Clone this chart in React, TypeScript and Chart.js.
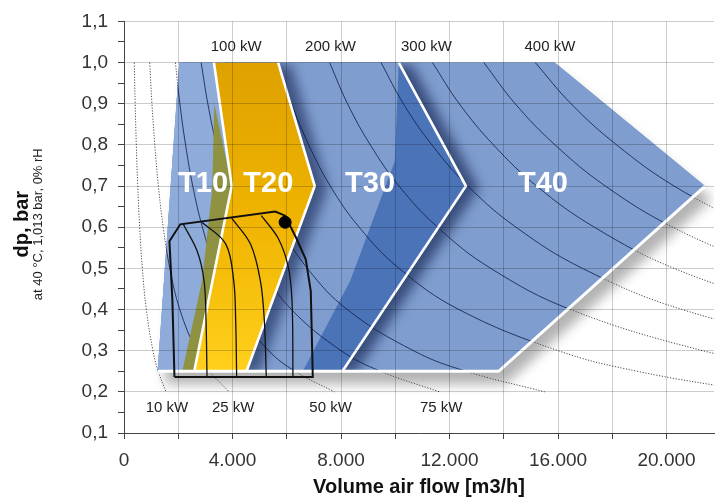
import React, { useEffect, useRef } from "react";
import { Chart, registerables } from "chart.js";

Chart.register(...registerables);

const FONT = "'Liberation Sans', Arial, Helvetica, sans-serif";

// ---- axes ----
const flowMin = 0;
const flowMax = 21750;
const dpMin = 0.1;
const dpMax = 1.1;
const xTickValues = [0, 2000, 4000, 6000, 8000, 10000, 12000, 14000, 16000, 18000, 20000];
const xLabelValues = [0, 4000, 8000, 12000, 16000, 20000];
const xTickLabels = ["0", "4.000", "8.000", "12.000", "16.000", "20.000"];
const yTickValues = [0.1, 0.15, 0.2, 0.25, 0.3, 0.35, 0.4, 0.45, 0.5, 0.55, 0.6, 0.65, 0.7, 0.75, 0.8, 0.85, 0.9, 0.95, 1.0, 1.05, 1.1];

// ---- iso-power curves (air flow m3/h read at each dp level) ----
const dpLevels = [1.0, 0.9, 0.8, 0.7, 0.6, 0.5, 0.4, 0.3, 0.25, 0.2];
const kw10 = [379, 412, 454, 507, 578, 676, 823, 1067, 1261, 1551];
const kw25 = [948, 1030, 1135, 1268, 1445, 1690, 2058, 2668, 3153, 3878];
const kw50 = [1895, 2060, 2270, 2535, 2890, 3380, 4115, 5335, 6305, 7755];
const kw75 = [2843, 3090, 3405, 3803, 4335, 5070, 6173, 8003, 9458, 11633];
const kw100 = [3790, 4120, 4540, 5070, 5780, 6760, 8230, 10670, 12610, 15510];
const kw150 = [5685, 6180, 6810, 7605, 8670, 10140, 12345, 16005, 18915, 23265];
const kw200 = [7580, 8240, 9080, 10140, 11560, 13520, 16460, 21340, 25220];
const kw250 = [9475, 10300, 11350, 12675, 14450, 16900, 20575, 26675];
const kw300 = [11370, 12360, 13620, 15210, 17340, 20280, 24690];
const kw350 = [13265, 14420, 15890, 17745, 20230, 23660];
const kw400 = [15160, 16480, 18160, 20280, 23120];
const kwCurves = [kw10, kw25, kw50, kw75, kw100, kw150, kw200, kw250, kw300, kw350, kw400];

// ---- ranges (polygons) ----
const outerFlow = [1240, 2040, 15880, 21420, 13810];
const outerDp = [0.25, 1.0, 1.0, 0.7, 0.25];
const t10Flow = [1240, 2040, 3315, 3970, 2590];
const t10Dp = [0.25, 1.0, 1.0, 0.7, 0.25];
const t20Flow = [3315, 5683, 7031, 4517, 2590, 3970];
const t20Dp = [1.0, 1.0, 0.7, 0.25, 0.25, 0.7];
const t30Flow = [5683, 10128, 12605, 8051, 4517, 7031];
const t30Dp = [1.0, 1.0, 0.7, 0.25, 0.25, 0.7];
const t30BandFlow = [10128, 12605, 8051, 6590, 8340, 9980];
const t30BandDp = [1.0, 0.7, 0.25, 0.25, 0.47, 0.76];
const oliveFlow = [3330, 3970, 2590, 2150, 2880, 3250];
const oliveDp = [0.9, 0.7, 0.25, 0.25, 0.47, 0.69];

// ---- white borders ----
const borderT20LeftFlow = [3315, 3970, 2590];
const borderT20RightFlow = [5683, 7031, 4517];
const borderT30RightFlow = [10128, 12605, 8051];
const borderTDp = [1.0, 0.7, 0.25];
const borderOuterFlow = [21420, 13810, 1240];
const borderOuterDp = [0.7, 0.25, 0.25];

// ---- operating envelope ----
const envFlow = [1860, 1785, 1675, 2075, 5575, 5940, 6340, 6700, 6885, 6960, 1860];
const envDp = [0.236, 0.421, 0.566, 0.607, 0.638, 0.628, 0.575, 0.522, 0.445, 0.236, 0.236];
const speed1Flow = [2186, 2696, 2951, 3024, 3060];
const speed1Dp = [0.607, 0.542, 0.47, 0.373, 0.236];
const speed2Flow = [2878, 3752, 4044, 4117, 4153];
const speed2Dp = [0.612, 0.559, 0.47, 0.373, 0.236];
const speed3Flow = [3971, 4663, 5027, 5173, 5246];
const speed3Dp = [0.622, 0.559, 0.47, 0.373, 0.236];
const speed4Flow = [5064, 5683, 6047, 6193, 6229];
const speed4Dp = [0.628, 0.573, 0.506, 0.422, 0.236];
const pointFlow = [5940];
const pointDp = [0.612];

// ---- labels ----
const topKwLabels = ["100 kW", "200 kW", "300 kW", "400 kW"];
const topKwFlow = [4135, 7614, 11148, 15701];
const topKwDp = 1.038;
const bottomKwLabels = ["10 kW", "25 kW", "50 kW", "75 kW"];
const bottomKwFlow = [1585, 4025, 7614, 11694];
const bottomKwDp = 0.16;
const typeLabels = ["T10", "T20", "T30", "T40"];
const typeFlow = [2914, 5319, 9071, 15446];
const typeDp = 0.705;

const xyPts = (xs: number[], ys: number[]) => xs.map((x, i) => ({ x, y: ys[i] }));

function pathFromMeta(ctx: CanvasRenderingContext2D, pts: any[]) {
  ctx.beginPath();
  pts.forEach((p: any, i: number) => (i ? ctx.lineTo(p.x, p.y) : ctx.moveTo(p.x, p.y)));
  ctx.closePath();
}

const shapePlugin = {
  id: "shapes",
  beforeDatasetDraw(chart: any, args: any) {
    const ds: any = chart.data.datasets[args.index];
    const ctx: CanvasRenderingContext2D = chart.ctx;
    const a = chart.chartArea;
    if (ds.clipTo !== undefined) {
      ctx.save();
      pathFromMeta(ctx, chart.getDatasetMeta(ds.clipTo).data);
      ctx.clip();
    }
    if (ds.polyFill) {
      ctx.save();
      ctx.beginPath();
      ctx.rect(a.left, a.top, a.right - a.left, a.bottom - a.top);
      ctx.clip();
      const fill = typeof ds.polyFill === "function" ? ds.polyFill(chart) : ds.polyFill;
      if (ds.drop) {
        const dpr = chart.currentDevicePixelRatio || 1;
        ctx.shadowColor = ds.drop.color;
        ctx.shadowBlur = ds.drop.blur * dpr;
        ctx.shadowOffsetX = ds.drop.x * dpr;
        ctx.shadowOffsetY = ds.drop.y * dpr;
      }
      pathFromMeta(ctx, args.meta.data);
      ctx.fillStyle = fill;
      ctx.fill();
      ctx.restore();
    }
  },
  afterDatasetDraw(chart: any, args: any) {
    const ds: any = chart.data.datasets[args.index];
    if (ds.clipTo !== undefined) chart.ctx.restore();
  },
  afterDraw(chart: any) {
    const ctx: CanvasRenderingContext2D = chart.ctx;
    const xs = chart.scales.x;
    const ys = chart.scales.y;
    ctx.save();
    ctx.textAlign = "center";
    ctx.textBaseline = "middle";
    ctx.fillStyle = "#222";
    ctx.font = `15px ${FONT}`;
    topKwLabels.forEach((t, i) => ctx.fillText(t, xs.getPixelForValue(topKwFlow[i]), ys.getPixelForValue(topKwDp)));
    bottomKwLabels.forEach((t, i) =>
      ctx.fillText(t, xs.getPixelForValue(bottomKwFlow[i]), ys.getPixelForValue(bottomKwDp))
    );
    ctx.fillStyle = "#ffffff";
    ctx.font = `bold 29px ${FONT}`;
    typeLabels.forEach((t, i) => ctx.fillText(t, xs.getPixelForValue(typeFlow[i]), ys.getPixelForValue(typeDp)));
    // y-axis title
    const cy = (chart.chartArea.top + chart.chartArea.bottom) / 2 - 3;
    ctx.fillStyle = "#111";
    ctx.translate(22, cy);
    ctx.rotate(-Math.PI / 2);
    ctx.font = `bold 20px ${FONT}`;
    ctx.fillText("dp, bar", 0, 0);
    ctx.font = `13px ${FONT}`;
    ctx.fillStyle = "#222";
    ctx.fillText("at 40 °C, 1,013 bar, 0% rH", 0, 16);
    ctx.restore();
  },
};

function buildDatasets() {
  const layers: any[] = [];
  const base = { pointRadius: 0, pointHoverRadius: 0, fill: false };
  const poly = (xs: number[], ys: number[], color: any, extra: any = {}) =>
    layers.push({ ...base, data: xyPts(xs, ys), showLine: false, polyFill: color, ...extra });

  // ground shadow of the whole range
  poly(outerFlow, outerDp, "#7f9dcf", { drop: { x: 7, y: 13, blur: 12, color: "rgba(0,0,0,0.3)" } });
  kwCurves.forEach((c) =>
    layers.push({
      ...base,
      data: xyPts(c, dpLevels),
      borderColor: "#4a4a4a",
      borderWidth: 1,
      borderDash: [1.2, 1.6],
      tension: 0.4,
    })
  );
  const outerIndex = layers.length;
  poly(outerFlow, outerDp, "#7f9dcf");
  poly(t10Flow, t10Dp, "#8eabda");
  poly(t30Flow, t30Dp, "#7f9dcf", {
    clipTo: outerIndex,
    drop: { x: 13, y: 2, blur: 12, color: "rgba(10,25,70,0.6)" },
  });
  poly(t30BandFlow, t30BandDp, "#4b73b8", { clipTo: outerIndex });
  kwCurves.forEach((c) =>
    layers.push({
      ...base,
      data: xyPts(c, dpLevels),
      borderColor: "rgba(20,35,80,0.85)",
      borderWidth: 1,
      tension: 0.4,
      clipTo: outerIndex,
    })
  );
  poly(oliveFlow, oliveDp, "#8f9241");
  poly(
    t20Flow,
    t20Dp,
    (chart: any) => {
      const y = chart.scales.y;
      const g = chart.ctx.createLinearGradient(0, y.getPixelForValue(1.0), 0, y.getPixelForValue(0.25));
      g.addColorStop(0, "#dea100");
      g.addColorStop(0.5, "#efb300");
      g.addColorStop(1, "#ffd01c");
      return g;
    },
    { clipTo: outerIndex, drop: { x: 13, y: 2, blur: 12, color: "rgba(10,25,70,0.55)" } }
  );
  const white = { ...base, borderColor: "#ffffff", borderWidth: 2.6, tension: 0 };
  layers.push({ ...white, data: xyPts(borderT20LeftFlow, borderTDp) });
  layers.push({ ...white, data: xyPts(borderT20RightFlow, borderTDp) });
  layers.push({ ...white, data: xyPts(borderT30RightFlow, borderTDp) });
  layers.push({ ...white, data: xyPts(borderOuterFlow, borderOuterDp), borderWidth: 3 });
  layers.push({ ...base, data: xyPts(envFlow, envDp), borderColor: "#111", borderWidth: 2, tension: 0 });
  [
    [speed1Flow, speed1Dp],
    [speed2Flow, speed2Dp],
    [speed3Flow, speed3Dp],
    [speed4Flow, speed4Dp],
  ].forEach(([f, d]) =>
    layers.push({ ...base, data: xyPts(f, d), borderColor: "#111", borderWidth: 1.3, tension: 0.35 })
  );
  layers.push({
    data: xyPts(pointFlow, pointDp),
    showLine: false,
    pointRadius: 6,
    pointHoverRadius: 6,
    pointBackgroundColor: "#000",
    pointBorderColor: "#000",
    fill: false,
  });
  const n = layers.length;
  layers.forEach((l, i) => (l.order = n - i));
  return layers;
}

export default function App() {
  const ref = useRef<HTMLCanvasElement>(null);
  useEffect(() => {
    document.body.style.margin = "0";
    const canvas = ref.current!;
    const chart = new Chart(canvas, {
      type: "line",
      data: { datasets: buildDatasets() },
      plugins: [shapePlugin as any],
      options: {
        responsive: false,
        maintainAspectRatio: false,
        animation: false,
        events: [],
        layout: { padding: { top: 18, left: 0, right: 0, bottom: 0 } },
        elements: { line: { capBezierPoints: false } as any },
        plugins: { legend: { display: false }, tooltip: { enabled: false } },
        scales: {
          x: {
            type: "linear",
            min: flowMin,
            max: flowMax,
            afterFit: (s: any) => {
              s.height = 66;
            },
            afterBuildTicks: (s: any) => {
              s.ticks = xTickValues.map((v) => ({ value: v }));
            },
            ticks: {
              autoSkip: false,
              maxRotation: 0,
              minRotation: 0,
              padding: 10,
              color: "#333",
              font: { family: FONT, size: 19 },
              callback: (v: any) => {
                const k = xLabelValues.indexOf(Number(v));
                return k >= 0 ? xTickLabels[k] : "";
              },
            },
            grid: {
              z: 1,
              color: (c: any) =>
                c.tick && c.tick.value > 0 && c.tick.value < flowMax ? "rgba(0,0,0,0.2)" : "rgba(0,0,0,0)",
              tickColor: "#444",
              tickLength: 6,
            } as any,
            border: { color: "#444", width: 1, z: 1 },
            title: {
              display: true,
              text: "Volume air flow [m3/h]",
              color: "#111",
              font: { family: FONT, size: 20, weight: "bold" },
              padding: { top: 0, bottom: 0 },
            },
          },
          y: {
            type: "linear",
            min: dpMin,
            max: dpMax,
            afterFit: (s: any) => {
              s.width = 124;
            },
            afterBuildTicks: (s: any) => {
              s.ticks = yTickValues.map((v) => ({ value: v }));
            },
            ticks: {
              autoSkip: false,
              padding: 10,
              color: "#333",
              font: { family: FONT, size: 19 },
              callback: (v: any) => {
                const n = Math.round(Number(v) * 100);
                return n % 10 === 0 ? (n / 100).toFixed(1).replace(".", ",") : "";
              },
            },
            grid: {
              z: 1,
              color: (c: any) =>
                c.tick && Math.round(c.tick.value * 100) % 10 === 0 && c.tick.value > dpMin + 0.01
                  ? "rgba(0,0,0,0.2)"
                  : "rgba(0,0,0,0)",
              tickColor: "#444",
              tickLength: 6,
            } as any,
            border: { color: "#444", width: 1, z: 1 },
          },
        },
      } as any,
    });
    return () => chart.destroy();
  }, []);
  return (
    <div style={{ width: 721, height: 499, overflow: "hidden", background: "#fff" }}>
      <canvas ref={ref} width={721} height={499} style={{ display: "block", width: 721, height: 499 }} />
    </div>
  );
}
